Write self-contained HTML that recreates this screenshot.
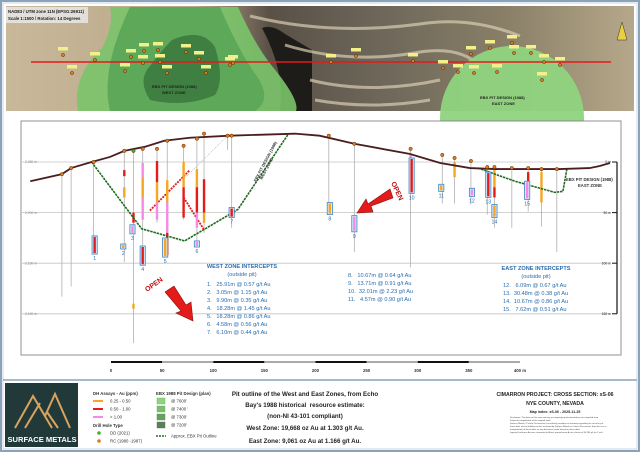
<!DOCTYPE html>
<html><head><meta charset="utf-8">
<style>
html,body{margin:0;padding:0;background:#fff;}
body{width:640px;height:452px;overflow:hidden;font-family:"Liberation Sans",sans-serif;}
svg text{font-family:"Liberation Sans",sans-serif;}
</style></head>
<body>
<svg id="s" width="640" height="452" viewBox="0 0 640 452" xmlns="http://www.w3.org/2000/svg">
<rect x="1" y="1" width="638" height="450" fill="#fff" stroke="#8aa3b8" stroke-width="2"/>
<rect x="3" y="3" width="634" height="446" fill="none" stroke="#c9d6e2" stroke-width="1"/>
<g>
<defs>
<linearGradient id="ground" x1="0" x2="1" y1="0" y2="0">
<stop offset="0" stop-color="#c9b89a"/><stop offset="0.3" stop-color="#b8a887"/>
<stop offset="0.42" stop-color="#595046"/><stop offset="0.6" stop-color="#6e675a"/>
<stop offset="0.8" stop-color="#8a8068"/><stop offset="1" stop-color="#b6a88a"/>
</linearGradient>
</defs>
<rect x="6" y="6" width="628" height="105" fill="url(#ground)"/>
<path d="M262 28 Q272 24 285 34 L312 50 L312 111 L280 111 Q285 70 262 28Z" fill="#1e1c18"/>
<path d="M250 16 Q330 36 420 24 Q470 16 520 36" stroke="#d8ccb0" stroke-width="3" fill="none" opacity="0.7"/>
<path d="M285 45 Q350 65 420 52 Q460 46 480 66" stroke="#d8ccb0" stroke-width="3" fill="none" opacity="0.7"/>
<path d="M310 80 Q370 95 440 80" stroke="#d8ccb0" stroke-width="3" fill="none" opacity="0.7"/>
<path d="M315 100 Q370 110 430 100" stroke="#d8ccb0" stroke-width="3" fill="none" opacity="0.7"/>
<path d="M110 7 L238 7 Q255 45 272 66 Q300 100 296 111 L78 111 Q72 75 102 48 Q114 25 110 7Z" fill="#7bc46a" opacity="0.9"/>
<path d="M130 7 L220 7 Q238 50 258 78 Q272 100 255 111 L110 111 Q100 70 130 7Z" fill="#5ea85a"/>
<path d="M172 40 Q202 27 215 47 Q225 80 215 95 Q185 108 150 100 Q137 80 150 66 Q160 52 172 40Z" fill="#3f7f42"/>
<text x="152" y="88" font-size="4" fill="#222" font-weight="bold">EBX PIT DESIGN (1988)</text>
<text x="162" y="94" font-size="4" fill="#222" font-weight="bold">WEST ZONE</text>
<circle cx="512" cy="118" r="72" fill="#8fd47f" opacity="0.95"/>
<text x="480" y="99" font-size="4" fill="#222" font-weight="bold">EBX PIT DESIGN (1988)</text>
<text x="492" y="105" font-size="4" fill="#222" font-weight="bold">EAST ZONE</text>
<rect x="6" y="7" width="82" height="16" fill="#e8e8e8" opacity="0.85"/>
<text x="8" y="13" font-size="4.3" fill="#222" font-weight="bold">NAD83 / UTM zone 11N (EPSG:26911)</text>
<text x="8" y="20" font-size="4.3" fill="#222" font-weight="bold">Scale 1:1500 / Rotation: 14 Degrees</text>
<path d="M617 40 L622 22 L627 40Z" fill="#e8d040" stroke="#333" stroke-width="0.5"/>
<line x1="31" y1="62" x2="611" y2="62" stroke="#e31b1b" stroke-width="1.5"/>
<g id="mapcollars"></g>
</g>
<rect x="21" y="121" width="600" height="234" fill="#fff" stroke="#777" stroke-width="0.8"/>
<g id="grid"></g>
<g id="holes"></g>
<g id="pits"></g>
<g id="topo"></g>
<g id="boxes"></g>
<g fill="#2a6db0" font-size="5.6">
<text x="242" y="268" text-anchor="middle" font-weight="bold">WEST ZONE INTERCEPTS</text>
<text x="242" y="276" text-anchor="middle">(outside pit)</text>
<text x="207" y="286">1.&#160;&#160;&#160;25.91m @ 0.57 g/t Au</text>
<text x="207" y="294">2.&#160;&#160;&#160;3.05m @ 1.15 g/t Au</text>
<text x="207" y="302">3.&#160;&#160;&#160;9.90m @ 0.35 g/t Au</text>
<text x="207" y="310">4.&#160;&#160;&#160;18.28m @ 1.45 g/t Au</text>
<text x="207" y="318">5.&#160;&#160;&#160;18.28m @ 0.86 g/t Au</text>
<text x="207" y="326">6.&#160;&#160;&#160;4.58m @ 0.56 g/t Au</text>
<text x="207" y="334">7.&#160;&#160;&#160;6.10m @ 0.44 g/t Au</text>
</g>
<g fill="#2a6db0" font-size="5.6">
<text x="348" y="277">8.&#160;&#160;&#160;10.67m @ 0.64 g/t Au</text>
<text x="348" y="285">9.&#160;&#160;&#160;13.71m @ 0.91 g/t Au</text>
<text x="348" y="293">10.&#160;&#160;32.01m @ 2.23 g/t Au</text>
<text x="348" y="301">11.&#160;&#160;&#160;4.57m @ 0.90 g/t Au</text>
</g>
<g fill="#2a6db0" font-size="5.6">
<text x="536" y="270" text-anchor="middle" font-weight="bold">EAST ZONE INTERCEPTS</text>
<text x="536" y="278" text-anchor="middle">(outside pit)</text>
<text x="503" y="287">12.&#160;&#160;&#160;6.09m @ 0.67 g/t Au</text>
<text x="503" y="295">13.&#160;&#160;30.48m @ 0.38 g/t Au</text>
<text x="503" y="303">14.&#160;&#160;10.67m @ 0.86 g/t Au</text>
<text x="503" y="311">15.&#160;&#160;&#160;7.62m @ 0.51 g/t Au</text>
</g>
<text transform="translate(256,182) rotate(-62)" font-size="4" font-weight="bold" fill="#333">EBX PIT DESIGN (1988)</text>
<text transform="translate(262,180) rotate(-62)" font-size="4" font-weight="bold" fill="#333">WEST ZONE</text>
<text x="566" y="181" font-size="4.2" font-weight="bold" fill="#333">EBX PIT DESIGN (1988)</text>
<text x="578" y="187" font-size="4.2" font-weight="bold" fill="#333">EAST ZONE</text>
<g>
<polygon points="165,292 174,286 186,305 191,302 193,321 176,313 181,311" fill="#e31b1b" stroke="#8a1010" stroke-width="0.6"/>
<text transform="translate(147,292) rotate(-35)" font-size="7" font-weight="bold" fill="#c01010">OPEN</text>
</g>
<g>
<polygon points="390,189 393,198 371,206 373,212 357,213 366,199 368,204" fill="#e31b1b" stroke="#8a1010" stroke-width="0.6"/>
<text transform="translate(391,183) rotate(65)" font-size="7" font-weight="bold" fill="#c01010">OPEN</text>
</g>
<g id="scale"></g>
<line x1="3" y1="380" x2="637" y2="380" stroke="#8aa3b8" stroke-width="1.5"/>
<g>
<rect x="5" y="383" width="73" height="64" fill="#22393a"/>
<path d="M15 428 L33 396 L45 416 L55 394 L70 428 M25 428 L40 403 M47 412 L58 428 M33 396 L52 428" stroke="#d9a35e" stroke-width="2" fill="none"/>
<text x="42" y="442" font-size="7.6" font-weight="bold" fill="#fff" text-anchor="middle">SURFACE METALS</text>
</g>
<g font-size="4.3" fill="#333">
<text x="93" y="395" font-weight="bold">DH Assays - Au (ppm)</text>
<line x1="93" y1="401" x2="103" y2="401" stroke="#f5a623" stroke-width="2"/><text x="110" y="402.5">0.25 - 0.50</text>
<line x1="93" y1="409" x2="103" y2="409" stroke="#e31b1b" stroke-width="2"/><text x="110" y="410.5">0.50 - 1.00</text>
<line x1="93" y1="417" x2="103" y2="417" stroke="#f58ae6" stroke-width="2"/><text x="110" y="418.5">&gt; 1.00</text>
<text x="93" y="427" font-weight="bold">Drill Hole Type</text>
<circle cx="99" cy="433" r="1.8" fill="#4caf2a"/><text x="110" y="434.5">DD (2021)</text>
<circle cx="99" cy="441" r="1.8" fill="#e07a20"/><text x="110" y="442.5">RC (1980 -1987)</text>
</g>
<g font-size="4.3" fill="#333">
<text x="156" y="395" font-weight="bold">EBX 1988 Pit Design (plan)</text>
<rect x="157" y="398" width="8" height="6" fill="#8fd47f" stroke="#6a6" stroke-width="0.4"/><text x="171" y="402.5">@ 7600'</text>
<rect x="157" y="406" width="8" height="6" fill="#7cbe6c" stroke="#6a6" stroke-width="0.4"/><text x="171" y="410.5">@ 7400 '</text>
<rect x="157" y="414" width="8" height="6" fill="#6a9e65" stroke="#585" stroke-width="0.4"/><text x="171" y="418.5">@ 7300'</text>
<rect x="157" y="422" width="8" height="6" fill="#5a8058" stroke="#575" stroke-width="0.4"/><text x="171" y="426.5">@ 7200'</text>
<line x1="156" y1="436" x2="166" y2="436" stroke="#1f6b1f" stroke-width="1.6" stroke-dasharray="2,1"/><text x="171" y="437.5">Approx. EBX Pit Outline</text>
</g>
<g font-size="6.2" font-weight="bold" fill="#222" text-anchor="middle">
<text x="305" y="396">Pit outline of the West and East Zones, from Echo</text>
<text x="305" y="407">Bay's 1988 historical&#160;&#160;resource estimate:</text>
<text x="305" y="418">(non-NI 43-101 compliant)</text>
<text x="305" y="430">West Zone: 19,668 oz Au at 1.303 g/t Au.</text>
<text x="305" y="443">East Zone: 9,061 oz Au at 1.166 g/t Au.</text>
</g>
<g fill="#222" text-anchor="middle">
<text x="555" y="396" font-size="5.2" font-weight="bold">CIMARRON PROJECT: CROSS SECTION: xS-06</text>
<text x="555" y="405" font-size="5.2" font-weight="bold">NYE COUNTY, NEVADA</text>
<text x="555" y="413" font-size="3.6" font-weight="bold">Map index: xS-06 - 2025-11-25</text>
<g font-size="2.2" text-anchor="start" fill="#444">
<text x="510" y="418">Disclaimer: The data on this map and any accompanying documentation are compiled from</text>
<text x="510" y="421">historical compilations of the original work.</text>
<text x="510" y="424">Surface Metals / Critical Discoveries (consultant) provides no warranty regarding the accuracy of</text>
<text x="510" y="427">these data and no liability can be assumed by Surface Metals or Critical Discoveries from the use or</text>
<text x="510" y="430">interpretation of these data, or any decisions made based on these data.</text>
<text x="510" y="433">Imperial (oz/tonne Au was converted to Metric grams/tonne Au at a factor of 34.286 g/t for 1 oz/t.</text>
</g>
</g>
</svg>
<script>
const NS="http://www.w3.org/2000/svg";
function mk(t,a,p){const e=document.createElementNS(NS,t);for(const k in a)e.setAttribute(k,a[k]);p.appendChild(e);return e;}
const elevTicks=[2250,2200,2150,2100];
const elevTickLabels=['2,250 m','2,200 m','2,150 m','2,100 m'];
const depthTicks=[0,50,100,150];
const scaleTicks=[0,50,100,150,200,250,300,350,400];
const topoDist=[-79,-48,-39,-19,-1,13,33,52,77,116,180,204,238,292,322,351,376,400,439,468,478,488];
const topoElev=[2231,2238,2244,2250,2255,2261,2265,2271,2274,2276,2278,2276,2268,2258,2249,2244,2243,2243,2243,2244,2246,2249];
const westPitDist=[-19,30,72,124,173];
const westPitElev=[2250,2184,2172,2203,2277];
const eastPitDist=[359,395,434,442,446];
const eastPitElev=[2244,2231,2220,2221,2244];
const holeDist=[-48,-39,-17,13,22,31,45,55,71,84,91,114,118,213,238,293,324,336,352,368,375,392,408,421,436];
const holeTop=[2238,2244,2250,2261,2261,2263,2263,2271,2266,2273,2278,2276,2276,2276,2268,2263,2257,2254,2251,2245,2245,2244,2244,2243,2243];
const holeBot=[2117,2127,2161,2151,2071,2148,2190,2156,2193,2166,2180,2262,2185,2200,2161,2146,2209,2209,2208,2198,2185,2185,2201,2186,2161];
const holeType=['RC','RC','RC','RC','DD','RC','RC','RC','RC','RC','RC','RC','RC','RC','RC','RC','RC','RC','RC','RC','RC','RC','RC','RC','RC'];
const interceptNum=[1,2,3,4,5,6,7,8,9,10,11,12,13,14,15];
const interceptDist=[-16,12,21,31,53,84,118,214,238,294,323,353,369,375,407];
const interceptTop=[2177,2169,2188,2167,2175,2172,2205,2210,2197,2254,2228,2224,2240,2208,2231];
const interceptBot=[2159,2164,2179,2148,2156,2166,2195,2198,2181,2219,2221,2216,2215,2195,2213];
const assayHole=[5,5,5,6,6,6,7,7,7,8,8,9,9,9,10,10,3,3,4,4,15,15,17,20,20,22,23];
const assayFrom=[2249,2235,2215,2251,2230,2210,2232,2210,2180,2250,2225,2243,2225,2200,2233,2200,2242,2225,2200,2110,2257,2240,2250,2245,2225,2240,2240];
const assayTo=[2235,2215,2193,2230,2210,2193,2210,2180,2158,2225,2195,2225,2200,2185,2200,2190,2236,2215,2190,2105,2240,2220,2235,2225,2215,2220,2210];
const assayClass=[2,0,2,1,0,2,0,2,1,0,1,0,1,2,1,0,1,0,1,0,2,1,0,0,1,1,0];
const diagFromDist=[38,71];
const diagFromElev=[2202,2215];
const diagToDist=[77,91];
const diagToElev=[2242,2183];
const mapCollarX=[63,72,95,125,131,143,144,158,160,167,186,199,206,230,233,331,356,413,443,458,471,474,490,497,512,514,531,542,544,560];
const mapCollarY=[55,73,60,71,57,63,51,50,62,73,52,59,73,65,63,62,56,61,68,72,54,73,48,72,43,53,53,80,62,65];
const X=d=>111+d*1.0225;
const Y=e=>162+(2250-e)*1.012;
const DY=m=>162+m*1.012;
const g=id=>document.getElementById(id);
elevTicks.forEach((v,i)=>{
 const l=mk('line',{x1:21,x2:610,y1:Y(v),y2:Y(v),stroke:'#c4c4c4','stroke-width':0.8},g('grid'));
 
 
 const t=mk('text',{x:25,y:Y(v)+1.2,'font-size':3.3,fill:'#888'},g('grid'));t.textContent=elevTickLabels[i];
 
 
});
mk('line',{x1:617,x2:617,y1:DY(0),y2:DY(150),stroke:'#111','stroke-width':1.2},g('grid'));
depthTicks.forEach(v=>{
 mk('line',{x1:612,x2:617,y1:DY(v),y2:DY(v),stroke:'#111','stroke-width':1},g('grid'));
 const t=mk('text',{x:611,y:DY(v)+1.2,'font-size':3.4,fill:'#222','text-anchor':'end'},g('grid'));t.textContent=v+' m';
 
 
});
const cls=['#f5a623','#e31b1b','#f58ae6'];
holeDist.forEach((d,i)=>{
 const l=mk('line',{x1:X(d),x2:X(d),y1:Y(holeTop[i]),y2:Y(holeBot[i]),stroke:'#b0b0b0','stroke-width':0.8},g('holes'));
 
 
});
diagFromDist.forEach((d,i)=>{
 const l=mk('line',{x1:X(d),y1:Y(diagFromElev[i]),x2:X(diagToDist[i]),y2:Y(diagToElev[i]),stroke:'#e31b1b','stroke-width':1.8,'stroke-dasharray':'2,1'},g('holes'));
 
 
});
mk('line',{x1:X(70),y1:Y(2232),x2:X(114),y2:Y(2276),stroke:'#aaa','stroke-width':0.6,'stroke-dasharray':'1,1'},g('holes'));
assayHole.forEach((h,i)=>{
 const r=mk('rect',{x:X(holeDist[h])-1.2,y:Y(assayFrom[i]),width:2.4,height:Y(assayTo[i])-Y(assayFrom[i]),fill:cls[assayClass[i]]},g('holes'));
 
 
});
function poly(xs,ys,name){const p=mk('polyline',{points:xs.map((d,i)=>X(d)+','+Y(ys[i])).join(' '),fill:'none',stroke:'#1f6b1f','stroke-width':1.6,'stroke-dasharray':'2.5,0.8'},g('pits'));
 
 }
poly(westPitDist,westPitElev,'west-pit-outline');
poly(eastPitDist,eastPitElev,'east-pit-outline');
const tp=mk('polyline',{points:topoDist.map((d,i)=>X(d)+','+Y(topoElev[i])).join(' '),fill:'none',stroke:'#4a1e1e','stroke-width':1.8},g('topo'));


holeDist.forEach((d,i)=>{
 const c=mk('circle',{cx:X(d),cy:Y(holeTop[i]),r:1.7,fill:holeType[i]=='DD'?'#4caf2a':'#e07a20',stroke:'#5a2a00','stroke-width':0.5},g('topo'));
 
 
});
interceptNum.forEach((n,i)=>{
 const x=X(interceptDist[i]);
 const r=mk('rect',{x:x-2.6,y:Y(interceptTop[i]),width:5.2,height:Y(interceptBot[i])-Y(interceptTop[i]),fill:'#dbe9f7',stroke:'#3a86c8','stroke-width':0.8},g('boxes'));
 
 
 mk('rect',{x:x-1.2,y:Y(interceptTop[i])+1,width:2.4,height:Math.max(1,Y(interceptBot[i])-Y(interceptTop[i])-2),fill:n%3==0?'#f58ae6':(n%3==1?'#e31b1b':'#f5a623')},g('boxes'));
 const t=mk('text',{x:x,y:Y(interceptBot[i])+6,'font-size':5.2,fill:'#2a6db0','text-anchor':'middle'},g('boxes'));t.textContent=n;
 
 
});
for(let i=0;i<scaleTicks.length-1;i++){
 const r=mk('rect',{x:X(scaleTicks[i]),y:361,width:X(scaleTicks[i+1])-X(scaleTicks[i]),height:2,fill:i%2?'#aaa':'#111'},g('scale'));
 
 
}
scaleTicks.forEach(v=>{
 const t=mk('text',{x:X(v),y:372,'font-size':4.3,'font-weight':'bold',fill:'#333','text-anchor':'middle'},g('scale'));t.textContent=v+(v==400?' m':'');
 
 
});
mapCollarX.forEach((x,i)=>{
 const y=mapCollarY[i];
 mk('rect',{x:x-5,y:y-8,width:10,height:3.5,fill:'#f3f08a'},g('mapcollars'));
 const c=mk('circle',{cx:x,cy:y,r:1.6,fill:'#e07a20',stroke:'#5a2a00','stroke-width':0.5},g('mapcollars'));
 
 
});
</script>
</body></html>
